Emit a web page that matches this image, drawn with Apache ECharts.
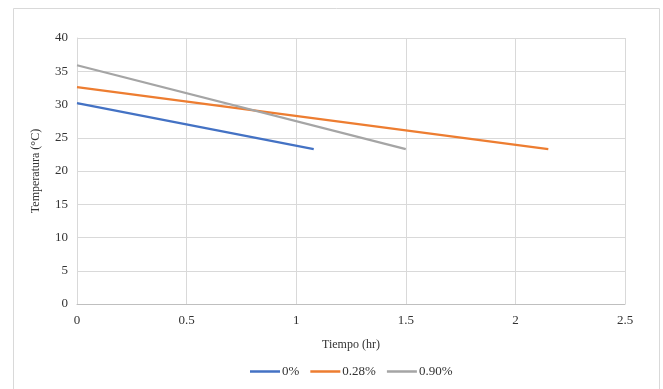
<!DOCTYPE html>
<html>
<head>
<meta charset="utf-8">
<script src="https://cdn.jsdelivr.net/npm/echarts@6/dist/echarts.min.js"></script>
<style>
  html, body { margin: 0; padding: 0; background: #fff; }
  #chart { width: 663px; height: 389px; }
</style>
</head>
<body>
<div id="chart"></div>
<script>
// Cooling curves: temperature vs. time for each additive concentration
const seriesNames = ['0%', '0.28%', '0.90%'];
const time0 = [0, 1.08];
const temp0 = [30.2, 23.3];
const time028 = [0, 2.15];
const temp028 = [32.6, 23.3];
const time090 = [0, 1.5];
const temp090 = [35.9, 23.3];
const xTicks = { min: 0, max: 2.5, step: 0.5 };
const yTicks = { min: 0, max: 40, step: 5 };

const colors = ['#4472C4', '#ED7D31', '#A5A5A5'];
const font = '"Liberation Serif", "Times New Roman", serif';
const textColor = '#333333';

function pairs(xs, ys) { return xs.map((x, i) => [x, ys[i]]); }
const seriesData = [pairs(time0, temp0), pairs(time028, temp028), pairs(time090, temp090)];

const chart = echarts.init(document.getElementById('chart'), null, { renderer: 'canvas' });
chart.setOption({
  animation: false,
  backgroundColor: '#fff',
  color: colors,
  graphic: [{
    type: 'rect', left: 11, top: 6, z: -1,
    shape: { width: 646, height: 392 },
    style: { fill: 'none', stroke: '#D9D9D9', lineWidth: 1 }
  }],
  grid: { left: 77, right: 38, top: 38, bottom: 85 },
  legend: {
    left: 245, top: 360,
    icon: 'rect', itemWidth: 30, itemHeight: 2.5, itemGap: 11,
    textStyle: { fontFamily: font, fontSize: 13, color: textColor, padding: [0, 0, 0, -3] },
    data: seriesNames
  },
  xAxis: {
    type: 'value', min: xTicks.min, max: xTicks.max, interval: xTicks.step,
    name: 'Tiempo (hr)', nameLocation: 'middle', nameGap: 35,
    nameTextStyle: { fontFamily: font, fontSize: 12, color: textColor },
    axisLine: { show: true, lineStyle: { color: '#BFBFBF', width: 1 } },
    axisTick: { show: false },
    axisLabel: { fontFamily: font, fontSize: 13, color: textColor, margin: 10 },
    splitLine: { show: true, lineStyle: { color: '#D9D9D9', width: 1 } }
  },
  yAxis: {
    type: 'value', min: yTicks.min, max: yTicks.max, interval: yTicks.step,
    name: 'Temperatura (°C)', nameLocation: 'middle', nameGap: 35,
    nameTextStyle: { fontFamily: font, fontSize: 12, color: textColor },
    axisLine: { show: true, lineStyle: { color: '#D9D9D9', width: 1 } },
    axisTick: { show: false },
    axisLabel: { fontFamily: font, fontSize: 13, color: textColor, margin: 9 },
    splitLine: { show: true, lineStyle: { color: '#D9D9D9', width: 1 } }
  },
  series: seriesNames.map((name, i) => ({
    name: name,
    type: 'line',
    data: seriesData[i],
    showSymbol: false,
    symbol: 'none',
    lineStyle: { width: 2.25, color: colors[i] },
    itemStyle: { color: colors[i] }
  }))
});
</script>
</body>
</html>
